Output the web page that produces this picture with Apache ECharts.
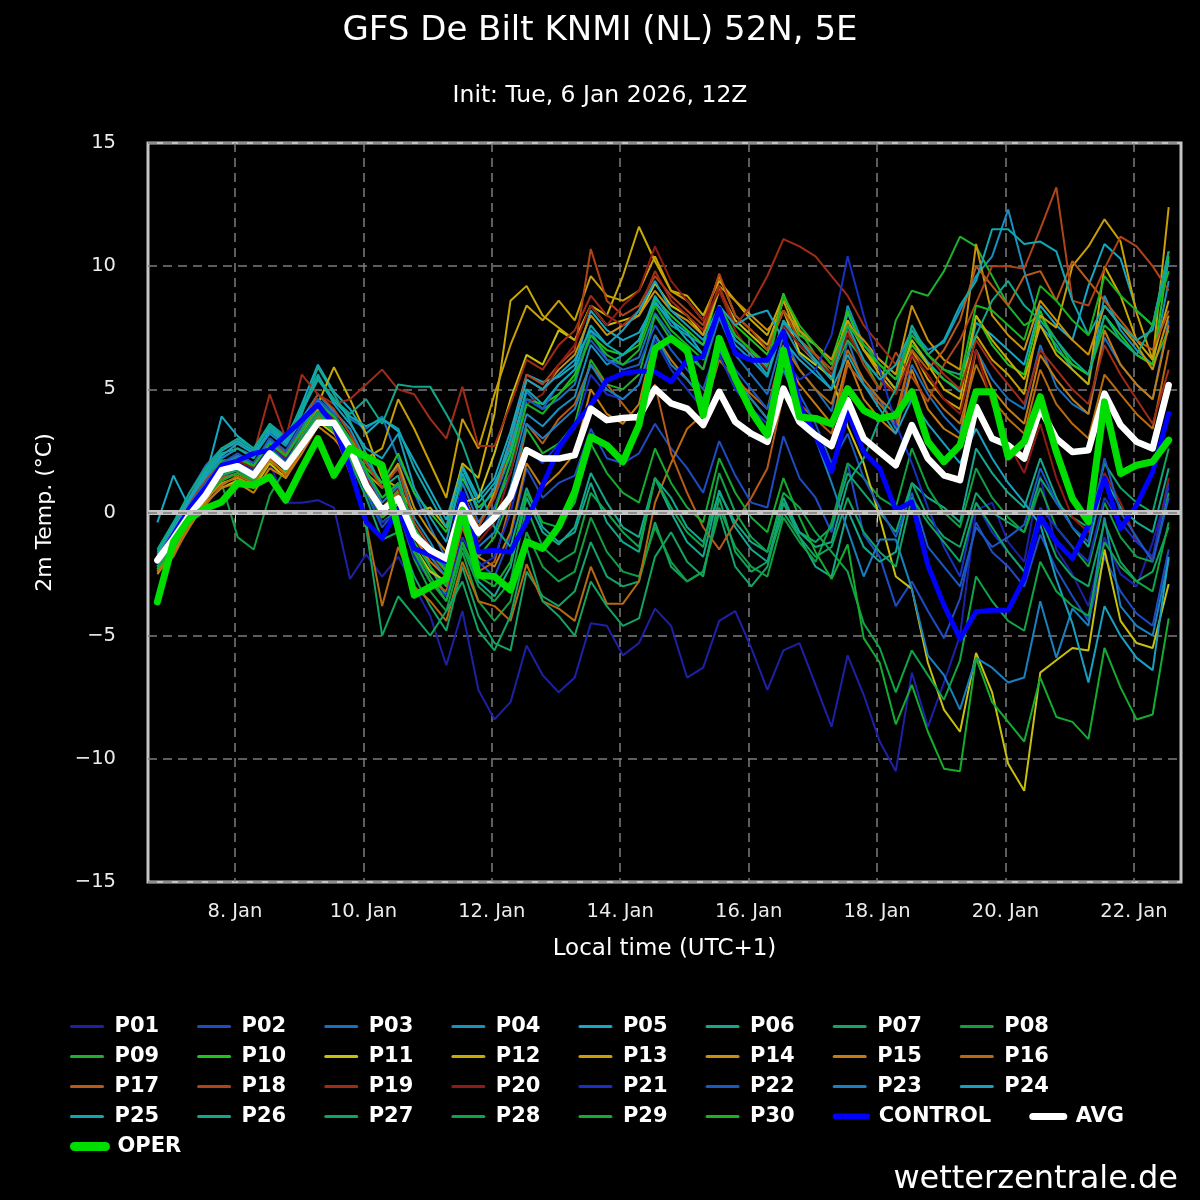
<!DOCTYPE html>
<html>
<head>
<meta charset="utf-8">
<title>GFS De Bilt ensemble</title>
<script src="https://cdn.jsdelivr.net/npm/echarts@6/dist/echarts.min.js"></script>
<style>
html,body{margin:0;padding:0;background:#000;}
#chart{width:1200px;height:1200px;}
</style>
</head>
<body>
<div id="chart"></div>
<script>
const FONT='DejaVu Sans';
// x in hours since 6 Jan 00:00 local time; first step is 6 Jan 19:00 (18Z), 6-hourly
const START_HOUR=19;
const STEP_HOURS=6;
const tickHours=[48,96,144,192,240,288,336,384];
const tickLabels=['8. Jan','10. Jan','12. Jan','14. Jan','16. Jan','18. Jan','20. Jan','22. Jan'];

// perturbed members, 64 steps each (4 values = 1 day)
const P01=[-2.2,-1.3,-0.3,0.6, 1.4,1.8,1.4,2.0, 0.4,0.4,0.5,0.2, -2.7,-1.7,-2.6,-1.8, -3.0,-4.2,-6.2,-4.0, -7.2,-8.4,-7.7,-5.4, -6.6,-7.3,-6.7,-4.5, -4.6,-5.8,-5.3,-3.9, -4.6,-6.7,-6.3,-4.4, -4.0,-5.5,-7.2,-5.6, -5.3,-7.0,-8.7,-5.8, -7.4,-9.3,-10.5,-6.5, -8.7,-6.9,-5.0,0.1, 0.4,-1.2,-2.0,1.5, -1.5,-2.5,-3.8,-1.0, -2.5,-3.0,-1.2,1.0];
const P02=[-2.0,-0.8,0.4,1.2, 2.0,2.3,1.9,3.0, 2.4,3.2,4.2,3.8, 2.6,0.8,-0.6,0.2, -1.6,-2.4,-2.9,-0.5, -2.0,-2.6,-1.0,1.8, 0.6,1.2,1.5,3.4, 2.2,2.0,2.4,3.6, 2.6,1.8,0.8,2.9, 1.5,0.4,0.2,3.1, 1.4,0.6,-0.8,2.0, -0.9,-1.8,-3.8,-2.8, -4.0,-5.1,-3.5,-0.4, -1.6,-2.2,-3.0,-0.9, -2.3,-3.4,-4.4,-1.8, -3.2,-4.1,-4.6,-1.5];
const P03=[-1.8,-0.6,0.8,1.9, 2.6,2.9,2.5,3.6, 3.1,4.2,5.4,4.6, 3.8,3.4,3.9,2.2, 0.8,-0.6,-1.9,1.2, -0.4,0.6,2.3,4.9, 4.2,4.6,5.2,7.4, 6.2,6.0,6.3,8.1, 7.2,6.6,5.8,7.9, 6.4,5.6,4.8,7.2, 5.8,5.0,4.1,7.0, 5.2,4.6,3.4,6.0, 4.8,3.9,3.2,6.6, 5.4,4.6,4.2,6.8, 5.1,4.4,4.0,7.1, 6.0,5.2,4.6,7.8];
const P04=[-2.1,-0.9,0.3,1.4, 2.2,2.6,2.3,3.2, 2.7,3.8,4.8,4.1, 3.4,2.1,1.2,1.9, -0.2,-1.2,-2.4,0.6, -1.0,0.2,1.6,4.0, 3.5,4.2,4.7,6.8, 6.0,6.4,7.0,8.6, 7.6,7.2,6.8,8.0, 6.8,6.2,5.5,7.6, 6.4,5.8,5.0,8.4, 6.8,6.2,5.6,7.4, 6.6,6.9,8.2,9.6, 10.4,12.3,9.8,7.6, 6.8,5.8,5.2,8.8, 7.4,6.6,6.0,9.4];
const P05=[-0.4,1.5,0.2,1.4, 3.9,3.1,2.6,3.5, 2.9,4.4,6.0,4.9, 4.2,3.2,3.8,3.3, 2.1,0.9,-0.3,1.9, 0.6,1.4,3.3,5.6, 5.3,5.5,6.0,8.2, 7.4,7.0,7.3,8.5, 7.8,7.3,6.4,8.1, 7.0,6.5,5.9,7.7, 6.8,6.1,5.4,8.1, 6.6,5.8,5.0,7.0, 6.1,5.4,4.9,7.7, 7.2,6.6,6.0,8.4, 7.6,7.0,9.2,10.9, 10.3,8.2,7.6,10.6];
const P06=[-1.6,-0.6,0.6,1.6, 2.4,2.6,2.2,3.4, 2.8,4.0,5.9,4.8, 3.7,2.4,1.0,1.5, -0.8,-2.2,-3.4,-1.2, -2.8,-3.4,-2.2,0.6, -0.8,-1.3,-0.6,1.6, 0.4,-0.6,-1.0,1.4, 0.0,-1.2,-1.8,0.9, -0.6,-1.5,-2.0,0.4, -1.0,-2.2,-2.6,0.1, -1.4,-2.0,-1.6,1.2, 0.6,0.2,-0.4,2.6, 1.6,0.8,0.2,2.2, 0.6,-0.6,-1.4,1.4, 0.2,-0.4,-0.8,1.8];
const P07=[-2.0,-1.0,0.1,0.9, 1.5,1.7,1.4,2.5, 2.0,3.0,4.1,3.4, 2.1,0.6,-1.1,-0.8, -2.6,-3.8,-4.8,-2.2, -4.2,-5.3,-5.6,-2.4, -3.4,-3.8,-3.2,-1.2, -2.6,-3.0,-2.8,-0.4, -2.2,-2.8,-2.4,0.0, -2.2,-3.0,-2.2,0.4, -0.8,-1.2,-0.6,1.6, 0.8,0.0,-0.8,1.2, -0.2,-1.0,-1.4,0.8, 0.0,-0.4,-0.8,1.4, 0.4,-0.2,-0.6,2.0, 1.0,0.4,0.0,2.6];
const P08=[-2.3,-1.4,-0.2,0.7, 1.2,-1.0,-1.5,0.7, 1.8,3.0,4.6,3.6, 2.2,0.9,-0.4,0.1, -1.9,-3.2,-4.0,-1.6, -3.6,-4.4,-3.6,-0.8, -2.2,-2.8,-2.4,-0.2, -1.6,-2.4,-2.6,-0.6, -2.0,-2.8,-2.4,0.2, -1.4,-2.2,-2.6,-0.2, -1.2,-2.0,-0.4,2.0, 1.4,0.6,0.2,2.6, 1.0,0.0,-0.6,1.8, 0.6,-0.2,-0.8,1.0, -0.6,-1.4,-2.2,0.4, -1.0,-1.8,-2.0,0.8];
const P09=[-1.8,-0.8,0.4,1.3, 2.1,2.2,1.8,2.9, 2.3,3.4,4.6,4.0, 3.0,1.6,0.2,0.9, -1.2,-2.2,-3.0,-0.2, -1.8,-1.0,0.6,3.4, 2.4,2.8,3.6,6.2, 5.2,5.0,5.6,8.0, 7.0,6.4,5.8,8.4, 7.2,6.6,5.8,8.8, 7.4,6.4,5.6,7.0, 6.2,5.0,7.8,9.0, 8.8,9.8,11.2,10.8, 9.6,8.4,7.6,8.0, 7.0,6.0,5.6,7.6, 7.0,6.4,6.0,7.4];
const P10=[-2.0,-1.2,-0.2,0.6, 1.3,1.6,1.3,2.3, 1.8,2.8,3.9,3.6, 2.8,1.8,1.2,2.4, 0.8,0.0,-0.8,1.4, 0.2,0.8,2.4,4.6, 4.4,4.8,5.6,7.2, 6.6,6.4,6.8,8.7, 8.0,7.4,6.8,9.1, 7.6,7.0,6.4,8.9, 7.2,6.8,6.2,8.2, 6.6,6.0,5.4,6.8, 6.0,5.4,5.0,8.0, 6.8,6.0,5.6,8.2, 6.6,6.0,5.6,8.0, 7.2,6.4,6.0,10.4];
const P11=[-2.4,-1.5,-0.4,0.4, 1.0,1.3,1.0,2.0, 1.4,2.6,3.7,3.2, 2.4,0.9,-0.2,0.3, -1.4,-2.4,-2.8,0.4, 0.6,2.4,4.6,6.4, 6.0,7.4,7.0,8.4, 7.6,7.8,8.0,9.3, 8.4,8.0,7.2,9.0, 7.8,7.2,6.6,8.2, 6.5,6.0,5.5,3.5, 2.0,-0.2,-2.6,-3.1, -6.1,-8.0,-8.9,-5.7, -7.3,-10.2,-11.3,-6.5, -6.0,-5.5,-5.6,-1.5, -4.4,-5.3,-5.5,-2.9];
const P12=[-1.9,-1.0,0.2,1.0, 1.8,2.0,1.6,2.6, 2.0,3.2,4.4,5.9, 4.6,3.2,1.4,1.0, 0.0,0.2,-0.6,2.0, 1.4,4.0,8.6,9.2, 8.0,7.5,7.0,8.4, 8.0,9.6,11.6,10.2, 9.0,8.8,8.0,9.4, 8.6,7.8,7.2,8.8, 7.4,6.8,6.0,7.8, 6.6,5.8,5.0,7.0, 6.0,5.0,4.6,8.0, 7.0,6.2,5.4,7.6, 6.4,5.8,5.2,10.0, 8.8,7.0,6.2,8.6];
const P13=[-2.2,-1.3,0.0,0.8, 1.6,1.8,1.5,2.5, 1.9,3.0,4.2,3.8, 3.0,2.2,2.6,4.6, 3.4,2.0,0.6,3.8, 2.6,4.8,6.8,8.4, 7.8,8.6,7.8,9.6, 8.8,8.6,9.0,10.4, 9.0,8.6,7.8,9.6, 8.0,7.4,6.8,8.6, 7.0,6.4,5.8,7.8, 6.6,5.6,4.8,6.6, 5.4,4.6,4.2,7.2, 6.2,5.6,4.8,8.0, 7.5,10.0,10.8,11.9, 11.0,8.1,6.2,12.4];
const P14=[-2.5,-1.6,-0.4,0.5, 1.2,1.4,1.1,2.1, 1.6,2.6,3.8,3.4, 2.6,1.6,1.0,2.0, 0.2,-0.8,-1.6,0.8, -0.6,0.8,3.0,5.4, 5.0,5.8,6.4,8.0, 7.2,7.6,8.0,9.0, 8.2,7.8,7.2,9.2, 8.6,8.0,7.4,8.2, 7.4,6.8,6.2,7.6, 7.0,6.2,5.6,8.4, 7.0,6.2,5.8,10.9, 8.0,7.2,6.6,8.6, 7.8,7.0,6.4,8.4, 7.6,6.8,5.8,8.0];
const P15=[-2.3,-1.7,-0.6,0.4, 1.0,1.2,0.8,1.8, 1.4,2.4,3.5,3.0, 2.2,1.0,0.0,0.6, -1.0,-2.0,-2.6,-0.2, -1.8,-2.2,-0.8,2.0, 1.0,1.6,2.4,5.0, 4.0,3.6,4.4,7.2, 6.2,5.4,4.6,7.0, 5.6,4.6,3.8,6.4, 5.2,4.4,3.6,6.2, 4.6,3.8,3.2,5.8, 4.2,3.4,3.0,6.6, 5.0,4.2,3.6,6.4, 5.4,4.6,4.0,7.4, 6.0,5.2,4.6,7.6];
const P16=[-2.4,-1.8,-0.5,0.3, 1.1,1.5,1.2,2.2, 1.5,2.6,3.9,3.3, 1.6,-0.4,-3.8,-1.4, -3.0,-3.6,-4.4,-2.0, -3.6,-3.8,-4.4,-2.1, -3.6,-3.9,-4.4,-2.2, -3.7,-3.7,-2.8,0.4, 2.0,3.4,4.0,6.2, 5.4,4.8,4.2,6.8, 5.8,5.0,4.4,6.6, 5.4,4.6,4.0,6.4, 5.0,4.2,3.6,6.0, 4.6,3.8,3.2,5.8, 4.4,3.6,3.0,5.6, 4.8,4.0,3.4,6.6];
const P17=[-2.0,-1.4,-0.3,0.6, 1.4,1.6,1.3,2.4, 1.8,3.0,4.0,3.5, 2.4,1.4,0.2,0.8, -1.6,-2.8,-3.2,-0.6, -2.4,-2.0,0.4,3.6, 2.8,3.8,4.4,6.0, 5.2,4.4,3.6,5.2, 2.4,0.8,-0.6,-1.5, -0.4,0.6,1.8,4.8, 4.4,3.8,3.2,6.0, 5.2,4.4,3.6,6.6, 5.8,6.6,7.8,10.0, 9.2,8.4,9.6,9.8, 8.6,10.2,9.4,8.6, 7.8,7.0,6.6,8.2];
const P18=[-1.7,-1.0,0.4,1.3, 2.0,2.3,2.0,3.0, 2.4,3.6,4.8,4.2, 3.2,2.0,1.0,1.8, -0.4,-1.4,-2.2,0.8, -0.6,0.6,2.8,5.6, 5.2,6.0,6.6,10.7, 8.6,8.0,8.4,9.6, 8.8,8.2,7.6,9.7, 8.0,7.4,6.6,8.2, 7.0,6.4,5.8,7.4, 6.0,5.0,6.5,5.5, 4.5,6.0,7.0,8.5, 10.0,10.0,9.9,11.5, 13.2,8.6,8.4,9.9, 11.2,10.8,10.0,9.0];
const P19=[-1.8,-0.7,0.6,1.8, 2.6,2.8,2.4,4.8, 3.0,5.6,4.8,4.4, 4.6,5.2,5.8,5.0, 4.8,3.8,3.0,5.1, 2.7,2.7,4.4,6.2, 5.8,6.8,7.4,8.8, 8.0,7.6,8.2,9.8, 8.6,8.0,7.4,9.2, 7.6,8.4,9.6,11.1, 10.8,10.4,9.6,8.8, 7.6,6.8,6.0,7.4, 6.4,5.6,5.0,7.0, 6.0,5.2,4.4,6.6, 5.8,5.0,4.4,6.8, 5.6,4.6,3.6,5.8];
const P20=[-2.1,-1.2,0.1,1.0, 1.8,2.1,1.8,2.8, 2.2,3.3,4.4,3.8, 2.8,1.4,0.4,1.0, -0.8,-1.8,-2.4,0.6, -1.2,-0.4,1.6,4.4, 4.8,6.0,6.8,8.4, 7.6,8.4,9.0,10.8, 9.4,8.6,7.8,9.0, 7.4,6.4,5.8,7.6, 6.8,6.2,5.6,7.2, 6.2,5.4,4.8,6.4, 5.6,4.6,4.0,6.6, 4.4,2.8,1.6,3.6, 1.4,-0.2,-0.8,1.6, 0.4,-1.1,-1.9,1.4];
const P21=[-2.0,-1.1,0.0,0.9, 1.7,2.0,1.7,2.7, 2.1,3.1,4.1,3.5, 2.4,1.0,-0.4,0.0, -1.8,-2.8,-3.4,-1.0, -2.2,-1.8,0.0,2.6, 2.0,2.8,3.4,5.6, 4.8,4.6,5.2,7.0, 5.8,5.0,4.2,6.4, 5.0,4.2,3.6,6.2, 5.4,5.8,7.2,10.4, 8.0,5.8,3.6,2.0, 0.2,-1.4,-2.6,0.4, -0.8,-1.6,-2.4,0.2, -0.6,-1.4,-2.0,0.6, -0.4,-1.2,-1.8,1.2];
const P22=[-1.9,-0.9,0.3,1.2, 2.0,2.4,2.0,3.0, 2.5,3.6,4.6,4.0, 3.0,1.6,0.6,1.2, -0.6,-1.6,-2.2,0.8, -0.8,0.2,2.0,4.6, 4.2,5.2,5.8,7.0, 6.2,5.8,6.0,7.6, 6.6,5.8,5.0,7.0, 5.8,5.0,4.2,6.4, 4.8,3.6,2.0,3.2, 1.4,0.2,-1.0,0.8, -1.4,-2.2,-3.0,-0.6, -1.4,-1.0,-0.5,1.8, 0.4,-0.6,-1.2,2.2, 0.0,-1.0,-2.0,0.6];
const P23=[-2.1,-1.0,0.2,1.1, 1.9,2.3,1.9,2.9, 2.3,3.4,4.5,3.9, 2.9,1.6,0.4,1.1, -0.6,-1.8,-2.6,0.2, -1.4,-0.8,1.0,3.6, 3.0,3.6,4.2,6.0, 5.0,4.6,5.2,7.2, 6.0,5.4,4.6,6.6, 5.4,4.6,3.8,5.8, 4.2,3.0,1.2,-0.7, -2.6,-1.1,-1.1,-3.1, -5.8,-6.6,-8.0,-5.9, -6.3,-6.9,-6.7,-3.6, -5.9,-3.9,-4.6,-0.2, -3.8,-4.6,-5.0,-1.9];
const P24=[-1.9,-0.7,0.5,1.5, 2.3,2.8,2.4,3.3, 2.8,4.2,5.6,4.4, 3.6,2.6,2.2,3.2, 1.0,-0.2,-1.2,1.6, 0.0,1.0,3.0,5.4, 5.0,5.6,6.2,7.4, 6.8,7.4,8.2,9.4, 8.2,7.6,7.0,8.4, 7.6,8.0,8.2,7.0, 6.2,5.6,5.0,6.4, 5.2,4.2,3.2,4.6, 3.6,2.8,2.0,3.4, 2.2,1.2,0.4,-0.5, -2.7,-4.5,-6.9,-3.8, -5.0,-5.9,-6.4,-1.8];
const P25=[-1.7,-0.5,0.6,1.7, 2.5,2.9,2.5,3.5, 2.9,4.1,5.4,4.5, 3.9,3.5,3.8,3.4, 1.8,0.6,-0.6,1.8, 0.4,1.2,2.6,5.0, 4.4,5.2,5.8,7.6, 6.8,6.4,7.0,8.8, 7.8,7.0,6.4,8.2, 7.0,6.4,5.6,7.8, 7.0,6.2,5.4,7.6, 6.2,5.4,6.0,7.4, 6.4,7.0,8.4,9.4, 11.5,11.5,10.9,11.0, 10.6,8.6,7.2,8.4, 7.6,7.0,7.4,10.2];
const P26=[-1.5,-0.4,0.8,1.8, 2.6,3.0,2.6,3.6, 3.0,4.3,5.5,4.6, 4.0,4.6,3.6,5.2, 5.1,5.1,4.0,2.8, 1.0,-0.6,-1.4,1.0, -0.6,-1.2,-0.8,1.2, -0.4,-1.2,-1.6,1.4, 0.6,-0.6,-1.2,0.8, -0.4,-1.2,-1.6,0.6, -0.8,-1.4,-1.2,1.2, 2.2,3.8,5.0,7.6, 6.4,5.8,5.6,7.2, 8.6,9.4,8.4,7.8, 7.0,6.2,5.6,8.0, 7.0,6.4,7.6,10.6];
const P27=[-2.2,-1.3,-0.1,0.8, 1.5,1.8,1.5,2.5, 1.9,2.9,4.0,3.4, 2.2,-0.6,-5.0,-3.4, -4.2,-5.0,-4.0,-2.8, -4.8,-5.6,-4.2,-1.4, -3.6,-4.2,-5.0,-2.8, -3.8,-4.6,-4.3,-1.8, -0.8,-2.0,-2.6,0.6, -1.6,-2.4,-2.0,0.0, -1.0,-1.8,-1.4,0.6, -0.8,-1.6,-2.2,0.6, -0.4,-1.2,-2.0,0.4, -0.6,-1.6,-2.4,-0.2, -1.8,-2.6,-3.0,-0.4, -2.0,-2.8,-2.4,-0.6];
const P28=[-2.0,-1.2,0.0,0.8, 1.6,1.9,1.6,2.6, 2.0,3.1,4.1,3.5, 2.5,1.2,0.0,0.6, -1.4,-2.6,-3.6,-1.4, -3.0,-3.6,-2.8,0.2, -1.4,-2.0,-1.6,0.8, 0.0,-0.8,-1.4,1.4, 0.2,-0.8,-1.4,1.6, 0.0,-1.0,-1.6,0.8, 0.2,-0.8,-1.6,-2.4, -4.5,-5.5,-7.3,-5.6, -6.6,-7.6,-6.0,-2.6, -3.6,-4.4,-4.8,-2.0, -3.2,-3.8,-4.2,-1.2, -2.2,-2.8,-3.2,-0.4];
const P29=[-2.3,-1.5,-0.3,0.6, 1.3,1.6,1.3,2.3, 1.7,2.7,3.8,3.3, 2.3,1.0,-0.2,0.4, -1.6,-2.8,-3.6,-1.2, -2.6,-3.0,-2.0,0.8, -0.4,-0.6,0.4,2.8, 1.6,0.8,0.4,2.6, 1.2,0.2,-0.4,2.2, 0.8,-0.2,-0.8,1.4, -0.2,-1.6,-2.7,-1.3, -5.1,-6.1,-8.6,-7.0, -8.9,-10.4,-10.5,-5.9, -7.7,-8.5,-9.3,-6.7, -8.3,-8.5,-9.2,-5.5, -7.1,-8.4,-8.2,-4.3];
const P30=[-1.9,-1.0,0.2,1.1, 1.9,2.2,1.9,2.8, 2.3,3.3,4.4,3.9, 3.0,1.7,0.6,1.2, -0.6,-1.6,-2.4,0.4, -1.0,0.0,2.0,4.4, 4.0,4.8,5.4,7.2, 6.4,6.0,6.6,8.4, 7.4,6.8,6.2,8.4, 7.2,6.6,6.0,8.8, 7.6,6.8,6.0,7.6, 6.8,6.0,5.4,7.2, 6.4,5.8,5.4,8.4, 8.2,7.6,7.0,9.2, 8.6,7.8,7.2,9.6, 8.8,8.2,7.6,9.8];

const CONTROL=[-2.0,-0.9,0.16,1.0, 1.9,2.1,2.4,2.53, 3.14,3.75,4.38,3.55, 1.8,-0.38,-1.05,0.16, -1.46,-1.73,-2.0,0.77, -1.6,-1.53,-1.6,-0.38, 1.11,2.6,3.55,4.36, 5.37,5.64,5.74,5.71, 5.31,6.18,6.32,8.28, 6.46,6.18,6.18,7.34, 4.36,3.14,1.65,4.09, 2.46,1.79,0.1,0.43, -2.14,-3.76,-5.12,-4.03, -3.97,-3.97,-2.68,-0.17, -1.19,-1.87,-0.51,1.38, -0.65,0.3,1.65,4.02];
const AVG=[-1.94,-1.06,-0.1,0.7, 1.72,1.88,1.51,2.4, 1.85,2.73,3.64,3.64, 2.6,1.1,0.1,0.57, -0.92,-1.53,-1.87,0.3, -0.82,-0.2,0.64,2.53, 2.19,2.19,2.33,4.22, 3.75,3.84,3.88,5.03, 4.43,4.22,3.55,4.9, 3.68,3.2,2.87,5.03, 3.68,3.14,2.7,4.56, 3.0,2.46,1.92,3.55, 2.19,1.51,1.31,4.29, 3.0,2.73,2.19,4.22, 3.0,2.46,2.53,4.83, 3.55,2.87,2.6,5.17];
const OPER=[-3.63,-1.19,-0.24,0.16, 0.43,1.18,1.11,1.45, 0.5,1.79,3.0,1.51, 2.6,2.26,1.92,-0.65, -3.36,-3.02,-2.68,0.1, -2.55,-2.6,-3.15,-1.19, -1.46,-0.58,0.84,3.07, 2.73,2.06,3.55,6.66, 7.07,6.59,3.95,7.07, 5.44,4.09,3.14,6.59, 3.88,3.82,3.6,5.03, 4.15,3.82,3.95,4.9, 2.87,2.06,2.73,4.9, 4.9,2.26,2.87,4.7, 2.46,0.57,-0.38,4.49, 1.58,1.92,2.06,2.94];

const members=[
 ['P01',P01,'#1f20a8'],['P02',P02,'#1e4cc4'],['P03',P03,'#1a70c0'],['P04',P04,'#1890c0'],
 ['P05',P05,'#15a8c4'],['P06',P06,'#14a88c'],['P07',P07,'#12a468'],['P08',P08,'#10a040'],
 ['P09',P09,'#1eb02c'],['P10',P10,'#1ec41e'],['P11',P11,'#c8c00c'],['P12',P12,'#c8aa04'],
 ['P13',P13,'#c8a004'],['P14',P14,'#c8900c'],['P15',P15,'#c47c10'],['P16',P16,'#b86a10'],
 ['P17',P17,'#b85a18'],['P18',P18,'#b04418'],['P19',P19,'#a02c18'],['P20',P20,'#901a14'],
 ['P21',P21,'#1830c4'],['P22',P22,'#1a58c4'],['P23',P23,'#1880c0'],['P24',P24,'#18a0c0'],
 ['P25',P25,'#10a8b0'],['P26',P26,'#10a888'],['P27',P27,'#10a460'],['P28',P28,'#10a448'],
 ['P29',P29,'#14ac30'],['P30',P30,'#18b420']
];
const legendRows=[
 ['P01','P02','P03','P04','P05','P06','P07','P08'],
 ['P09','P10','P11','P12','P13','P14','P15','P16'],
 ['P17','P18','P19','P20','P21','P22','P23','P24'],
 ['P25','P26','P27','P28','P29','P30','CONTROL','AVG'],
 ['OPER']
];
// thicker legend strokes for the three main runs
const legendWidth={CONTROL:6, AVG:7, OPER:9};

const hours=P01.map((v,i)=>START_HOUR+STEP_HOURS*i);
function pairs(vals){ return vals.map((v,i)=>[hours[i],v]); }

var series=members.map(m=>({
    name:m[0], type:'line', data:pairs(m[1]), symbol:'none', silent:true,
    color:m[2], lineStyle:{color:m[2], width:2}, emphasis:{disabled:true}
}));
// zero line sits under all members
series[0].markLine={
    silent:true, symbol:'none', label:{show:false},
    data:[
        {yAxis:0, lineStyle:{color:'#c4c4c4', width:5, type:'solid'}},
        {yAxis:0, lineStyle:{color:'#7c7c7c', width:1.5, type:[9,6]}}
    ]
};
series.push({name:'CONTROL', type:'line', data:pairs(CONTROL), symbol:'none', silent:true,
    color:'#0000ff', lineStyle:{color:'#0000ff', width:5, cap:'round', join:'round'}, emphasis:{disabled:true}});
series.push({name:'AVG', type:'line', data:pairs(AVG), symbol:'none', silent:true,
    color:'#ffffff', lineStyle:{color:'#ffffff', width:6.5, cap:'round', join:'round'}, emphasis:{disabled:true}});
series.push({name:'OPER', type:'line', data:pairs(OPER), symbol:'none', silent:true,
    color:'#00dd00', lineStyle:{color:'#00dd00', width:7, cap:'round', join:'round'}, emphasis:{disabled:true}});

const txt={color:'#ffffff', fontFamily:FONT};
// one legend per row so the rows keep the picture's tight spacing
var legends=legendRows.map((names,r)=>({
    left:70, top:1016+30*r, padding:0, orient:'horizontal', itemGap:38, itemWidth:31, itemHeight:14,
    itemStyle:{opacity:0},
    lineStyle:{width:3, cap:'round'},
    textStyle:{color:'#ffffff', fontFamily:FONT, fontSize:21, fontWeight:'bold', padding:[0,0,0,7]},
    data:names.map(n=>legendWidth[n]?{name:n, lineStyle:{width:legendWidth[n], cap:'round'}}:{name:n}),
    selectedMode:false
}));

var chart=echarts.init(document.getElementById('chart'));
chart.setOption({
    backgroundColor:'#000000',
    animation:false,
    title:[
        {text:'GFS De Bilt KNMI (NL) 52N, 5E', left:'center', top:9,
         textStyle:Object.assign({fontSize:34, fontWeight:'normal'}, txt)},
        {text:'Init: Tue, 6 Jan 2026, 12Z', left:'center', top:79,
         textStyle:Object.assign({fontSize:23.5, fontWeight:'normal'}, txt)},
        {text:'wetterzentrale.de', right:17, top:1159,
         textStyle:Object.assign({fontSize:32, fontWeight:'normal'}, txt)}
    ],
    legend:legends,
    grid:{left:148, right:19, top:143, bottom:318, show:true, borderColor:'#c4c4c4', borderWidth:3, backgroundColor:'#000'},
    xAxis:{
        type:'value', min:15.5, max:401.6,
        name:'Local time (UTC+1)', nameLocation:'middle', nameGap:56,
        nameTextStyle:{color:'#ffffff', fontFamily:FONT, fontSize:23},
        axisLine:{show:false},
        axisTick:{show:true, customValues:tickHours, length:10, lineStyle:{color:'#c0cce0', width:1}},
        axisLabel:{customValues:tickHours, margin:20, color:'#ececec', fontFamily:FONT, fontSize:19.5,
            formatter:v=>tickLabels[tickHours.indexOf(v)]},
        splitLine:{show:true, customValues:tickHours, lineStyle:{color:'#7c7c7c', width:1.5, type:[9,6]}}
    },
    yAxis:{
        type:'value', min:-15, max:15, interval:5,
        name:'2m Temp. (°C)', nameLocation:'middle', nameGap:92, nameRotate:90,
        nameTextStyle:{color:'#ffffff', fontFamily:FONT, fontSize:22},
        axisLine:{show:false}, axisTick:{show:false},
        axisLabel:{margin:32, color:'#ececec', fontFamily:FONT, fontSize:19.5,
            formatter:v=>v<0?'\u2212'+Math.abs(v):String(v)},
        splitLine:{show:true, lineStyle:{color:'#7c7c7c', width:1.5, type:[9,6]}}
    },
    series:series
});
</script>
</body>
</html>
